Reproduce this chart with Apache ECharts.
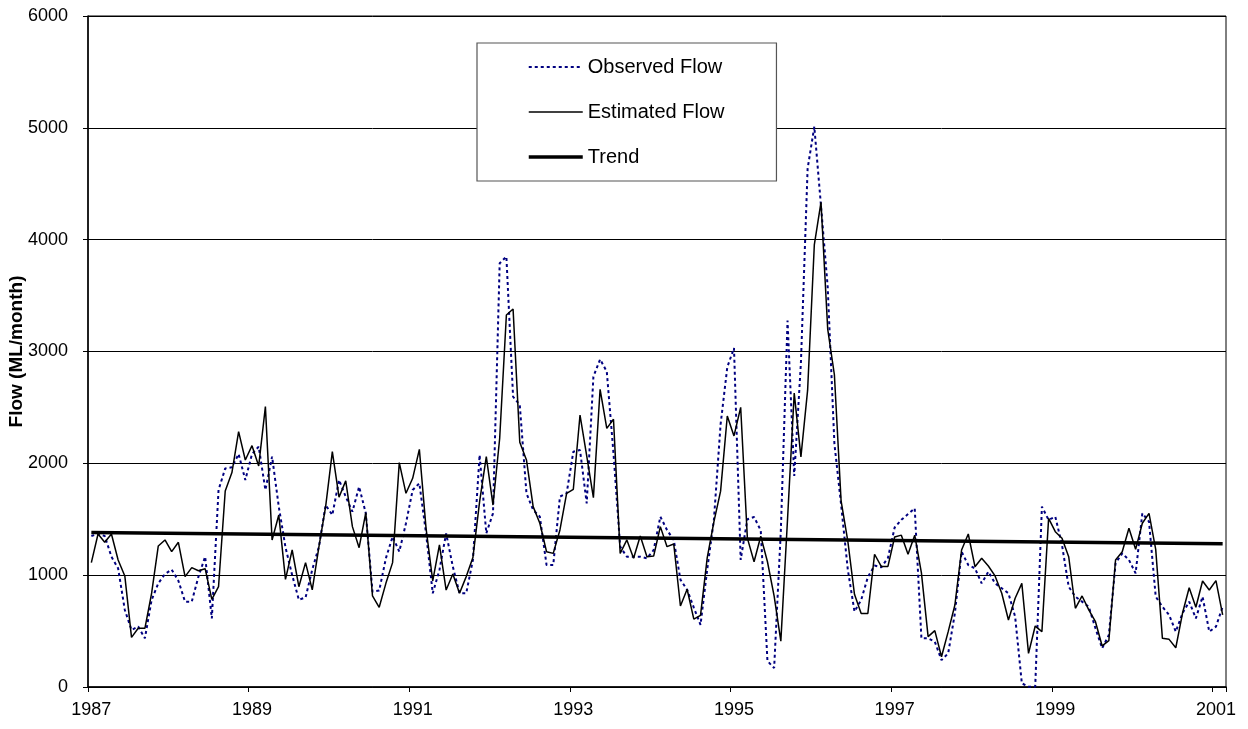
<!DOCTYPE html>
<html>
<head>
<meta charset="utf-8">
<title>Observed and Estimated Flow</title>
<script src="https://cdn.jsdelivr.net/npm/echarts@6/dist/echarts.min.js"></script>
<style>
  html, body { margin: 0; padding: 0; background: #fff; }
  #chart { width: 1248px; height: 729px; }
</style>
</head>
<body>
<div id="chart"></div>
<script>
// Monthly series, January 1987 to February 2001 (ML/month)
const startYear = 1987;
const monthCount = 170;
const yearLabelStep = 24; // a year label every second January

const observedFlow = [
  // 1987
  1350, 1370, 1350, 1165, 1061, 689, 510, 540, 435, 778, 927, 1010,
  // 1988
  1050, 950, 763, 763, 987, 1165, 614, 1762, 1955, 1965, 2083, 1851,
  // 1989
  2083, 2149, 1762, 2060, 1612, 1250, 1000, 780, 800, 1050, 1255, 1627,
  // 1990
  1538, 1851, 1702, 1568, 1791, 1553, 852, 862, 1151, 1344, 1210, 1464,
  // 1991
  1762, 1821, 1374, 838, 1046, 1374, 1076, 838, 838, 1136, 2075, 1374,
  // 1992
  1553, 3789, 3849, 2596, 2522, 1732, 1583, 1523, 1091, 1091, 1702, 1732,
  // 1993
  2104, 2119, 1642, 2775, 2930, 2820, 2090, 1255, 1165, 1165, 1165, 1151,
  // 1994
  1225, 1523, 1404, 1315, 960, 870, 710, 556, 1051, 1495, 2348, 2860,
  // 1995
  3031, 1137, 1500, 1520, 1400, 232, 170, 1400, 3276, 1887, 2900, 4635,
  // 1996
  5010, 4300, 3577, 2177, 1631, 1051, 675, 778, 983, 1086, 1070, 1154,
  // 1997
  1426, 1495, 1546, 1597, 436, 435, 405, 241, 301, 659, 1210, 1091,
  // 1998
  1061, 927, 1031, 927, 883, 838, 629, 33, 3, 3, 1613, 1494,
  // 1999
  1523, 1270, 897, 808, 763, 718, 525, 346, 465, 1106, 1195, 1136,
  // 2000
  1017, 1553, 1479, 808, 718, 644, 495, 659, 763, 614, 808, 495,
  // 2001
  540, 718
];

const estimatedFlow = [
  // 1987
  1112, 1368, 1294, 1368, 1136, 993, 444, 525, 525, 838, 1261, 1315,
  // 1988
  1210, 1294, 987, 1067, 1040, 1058, 784, 897, 1753, 1917, 2284, 2030,
  // 1989
  2158, 1977, 2507, 1315, 1538, 963, 1225, 897, 1112, 868, 1255, 1613,
  // 1990
  2105, 1697, 1843, 1434, 1246, 1559, 814, 713, 927, 1112, 2006, 1732,
  // 1991
  1866, 2125, 1419, 948, 1270, 867, 1010, 838, 987, 1157, 1657, 2060,
  // 1992
  1627, 2224, 3326, 3380, 2188, 2030, 1613, 1464, 1210, 1195, 1404, 1732,
  // 1993
  1768, 2432, 2066, 1693, 2662, 2313, 2394, 1195, 1315, 1151, 1350, 1165,
  // 1994
  1171, 1434, 1255, 1279, 724, 874, 607, 641, 1154, 1477, 1751, 2423,
  // 1995
  2245, 2501, 1331, 1120, 1348, 1120, 812, 410, 1500, 2628, 2058, 2654,
  // 1996
  3953, 4335, 3201, 2792, 1665, 1307, 829, 658, 658, 1187, 1078, 1078,
  // 1997
  1341, 1358, 1187, 1358, 1020, 450, 504, 271, 495, 733, 1225, 1368,
  // 1998
  1076, 1151, 1082, 993, 838, 599, 793, 927, 301, 545, 495, 1508,
  // 1999
  1389, 1330, 1165, 704, 814, 689, 584, 367, 414, 1136, 1210, 1419,
  // 2000
  1231, 1464, 1553, 1231, 435, 426, 351, 659, 888, 713, 948, 867,
  // 2001
  951, 644
];

// Linear trend: value at the first and at the last month
const trendEnds = [1382, 1280];

const yMin = 0, yMax = 6000, yStep = 1000;

// Month categories such as "1987-01"
const months = [];
for (let i = 0; i < monthCount; i++) {
  const y = startYear + Math.floor(i / 12);
  const m = (i % 12) + 1;
  months.push(y + '-' + (m < 10 ? '0' + m : m));
}

// Trend drawn as a straight segment between its two end values
const trendData = months.map(() => null);
trendData[0] = trendEnds[0];
trendData[monthCount - 1] = trendEnds[1];

const FONT = '"Liberation Sans", Arial, Helvetica, sans-serif';
const showYear = (index) => index % yearLabelStep === 0;

const chart = echarts.init(document.getElementById('chart'), null, { renderer: 'canvas' });

chart.setOption({
  animation: false,
  backgroundColor: '#fff',
  grid: {
    left: 88, right: 22, top: 16, bottom: 42,
    outerBoundsMode: 'none',
    containLabel: false,
    show: true, borderColor: '#000', borderWidth: 1, backgroundColor: 'transparent'
  },
  legend: {
    orient: 'vertical',
    left: 477, top: 43,
    padding: [14, 52, 14, 50],
    itemGap: 25,
    itemWidth: 54,
    itemHeight: 14,
    backgroundColor: '#fff',
    borderColor: '#555',
    borderWidth: 1.2,
    itemStyle: { opacity: 0 },
    textStyle: { fontSize: 20, color: '#000', fontFamily: FONT },
    data: [
      { name: 'Observed Flow', lineStyle: { width: 2 } },
      { name: 'Estimated Flow', lineStyle: { width: 1.5 } },
      { name: 'Trend', lineStyle: { width: 3.5 } }
    ]
  },
  xAxis: {
    type: 'category',
    data: months,
    boundaryGap: true,
    axisLine: { lineStyle: { color: '#000', width: 1.5 } },
    axisTick: { show: true, interval: showYear, length: 5, lineStyle: { color: '#000' } },
    axisLabel: {
      interval: showYear,
      formatter: (v) => v.slice(0, 4),
      fontSize: 18, color: '#000', fontFamily: FONT, margin: 14
    },
    splitLine: { show: false }
  },
  yAxis: {
    type: 'value',
    min: yMin, max: yMax, interval: yStep,
    name: 'Flow (ML/month)',
    nameLocation: 'middle',
    nameGap: 62,
    nameMoveOverlap: false,
    nameTextStyle: { fontSize: 19, fontWeight: 'bold', color: '#000', fontFamily: FONT },
    axisLine: { show: true, lineStyle: { color: '#000', width: 1.5 } },
    axisTick: { show: true, length: 5, lineStyle: { color: '#000' } },
    axisLabel: {
      formatter: (v) => String(v),
      fontSize: 18, color: '#000', fontFamily: FONT, margin: 20
    },
    splitLine: { show: true, lineStyle: { color: '#000', width: 1 } }
  },
  series: [
    {
      name: 'Observed Flow',
      type: 'line',
      data: observedFlow,
      symbol: 'none',
      itemStyle: { color: '#000080' },
      lineStyle: { color: '#000080', width: 2, type: [3, 3] }
    },
    {
      name: 'Estimated Flow',
      type: 'line',
      data: estimatedFlow,
      symbol: 'none',
      itemStyle: { color: '#000' },
      lineStyle: { color: '#000', width: 1.5 }
    },
    {
      name: 'Trend',
      type: 'line',
      data: trendData,
      connectNulls: true,
      symbol: 'none',
      itemStyle: { color: '#000' },
      lineStyle: { color: '#000', width: 3.5 }
    }
  ]
});
</script>
</body>
</html>
